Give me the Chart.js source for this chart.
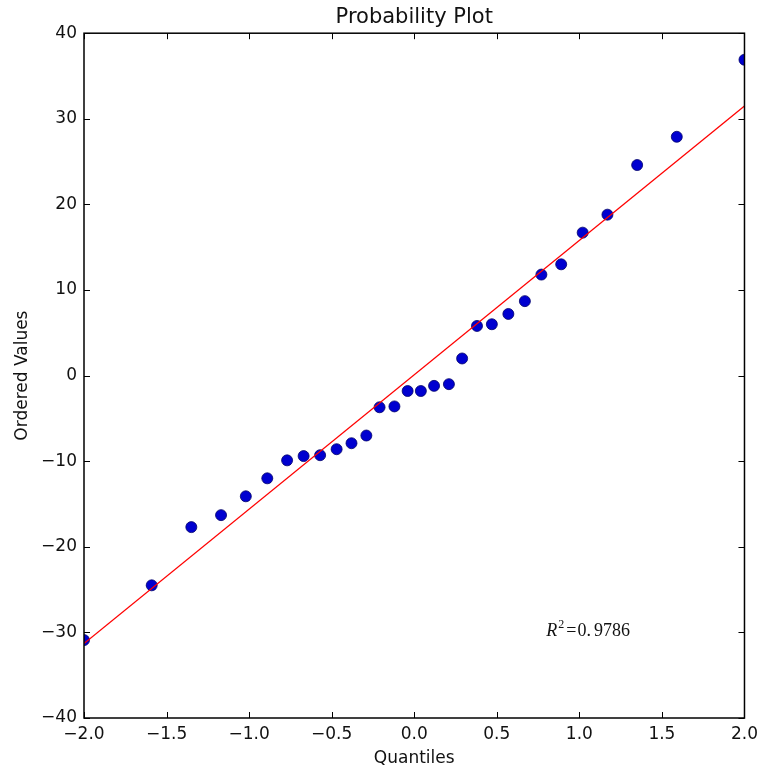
<!DOCTYPE html>
<html>
<head>
<meta charset="utf-8">
<script src="https://cdn.jsdelivr.net/npm/chart.js@4.4.1/dist/chart.umd.min.js"></script>
<style>
  html, body { margin: 0; padding: 0; background: #fff; }
  canvas { display: block; }
</style>
</head>
<body>
<canvas id="c" width="764" height="769"></canvas>
<script>
// Theoretical normal quantiles (x) and sorted sample values (y)
const quantiles = [
  -2.00, -1.59, -1.35, -1.17, -1.02, -0.89, -0.77, -0.67, -0.57, -0.47,
  -0.38, -0.29, -0.21, -0.12, -0.04, 0.04, 0.12, 0.21, 0.29, 0.38,
  0.47, 0.57, 0.67, 0.77, 0.89, 1.02, 1.17, 1.35, 1.59, 2.00
];
const orderedValues = [
  -30.9, -24.5, -17.7, -16.3, -14.1, -12.0, -9.9, -9.4, -9.3, -8.6,
  -7.9, -7.0, -3.7, -3.6, -1.8, -1.8, -1.2, -1.0, 2.0, 5.8,
  6.0, 7.2, 8.7, 11.8, 13.0, 16.7, 18.8, 24.6, 27.9, 36.9
];
// Least-squares fit line endpoints
const fitX = [-2.0, 2.0];
const fitY = [-31.3, 31.5];
// Axis ticks
const xTicks = [-2.0, -1.5, -1.0, -0.5, 0.0, 0.5, 1.0, 1.5, 2.0];
const yTicks = [-40, -30, -20, -10, 0, 10, 20, 30, 40];
const rSquared = '0.9786';

const FONT = 'DejaVu Sans';
const minus = s => s.replace('-', '\u2212');

// Frame, inward tick marks on all four sides, and the R² note
const framePlugin = {
  id: 'frame',
  afterDraw(chart) {
    const { ctx, chartArea: a, scales: { x, y } } = chart;
    const len = 6;
    ctx.save();
    ctx.strokeStyle = '#000';
    ctx.lineWidth = 1;
    ctx.beginPath();
    x.ticks.forEach(t => {
      const px = Math.round(x.getPixelForValue(t.value)) + 0.5;
      ctx.moveTo(px, a.bottom); ctx.lineTo(px, a.bottom - len);
      ctx.moveTo(px, a.top); ctx.lineTo(px, a.top + len);
    });
    y.ticks.forEach(t => {
      const py = Math.round(y.getPixelForValue(t.value)) + 0.5;
      ctx.moveTo(a.left, py); ctx.lineTo(a.left + len, py);
      ctx.moveTo(a.right, py); ctx.lineTo(a.right - len, py);
    });
    ctx.stroke();
    ctx.lineWidth = 1.5;
    ctx.strokeRect(a.left, a.top, a.right - a.left, a.bottom - a.top);

    // R^2 = value, math-style text
    let tx = x.getPixelForValue(0.8);
    const ty = y.getPixelForValue(-30.4);
    ctx.fillStyle = '#111';
    ctx.textBaseline = 'alphabetic';
    ctx.textAlign = 'left';
    ctx.font = 'italic 18px "Liberation Serif"';
    ctx.fillText('R', tx, ty);
    tx += ctx.measureText('R').width + 1;
    ctx.font = '12px "Liberation Serif"';
    ctx.fillText('2', tx, ty - 8);
    tx += ctx.measureText('2').width + 2;
    ctx.font = '18px "Liberation Serif"';
    ctx.fillText('=', tx, ty);
    tx += ctx.measureText('=').width + 1;
    const [ip, fp] = rSquared.split('.');
    ctx.fillText(ip + '.', tx, ty);
    tx += ctx.measureText(ip + '.').width + 3;
    ctx.fillText(fp, tx, ty);
    ctx.restore();
  }
};

new Chart(document.getElementById('c'), {
  type: 'scatter',
  data: {
    datasets: [
      {
        type: 'line',
        data: fitX.map((v, i) => ({ x: v, y: fitY[i] })),
        borderColor: '#ff0000',
        borderWidth: 1.3,
        pointRadius: 0,
        fill: false,
        clip: 0
      },
      {
        data: quantiles.map((v, i) => ({ x: v, y: orderedValues[i] })),
        backgroundColor: '#0000d0',
        borderColor: '#00006a',
        borderWidth: 0.8,
        pointRadius: 5.5,
        clip: 0
      }
    ]
  },
  options: {
    responsive: false,
    animation: false,
    layout: { autoPadding: false, padding: { left: 0, right: 16, top: 0, bottom: 0 } },
    plugins: {
      legend: { display: false },
      tooltip: { enabled: false },
      title: {
        display: true,
        text: 'Probability Plot',
        fullSize: false,
        color: '#111',
        font: { family: FONT, size: 21, weight: 'normal', lineHeight: 1.2 },
        padding: { top: 5, bottom: 3 }
      }
    },
    scales: {
      x: {
        type: 'linear',
        min: -2, max: 2,
        afterBuildTicks: s => { s.ticks = xTicks.map(v => ({ value: v })); },
        afterFit: s => { s.height = 51; },
        grid: { display: false, drawTicks: false },
        border: { display: false },
        ticks: {
          color: '#111',
          font: { family: FONT, size: 17 },
          padding: 6,
          maxRotation: 0,
          autoSkip: false,
          callback: v => minus(Number(v).toFixed(1))
        },
        title: {
          display: true,
          text: 'Quantiles',
          color: '#111',
          font: { family: FONT, size: 17, lineHeight: 1.2 },
          padding: { top: 0, bottom: 0 }
        }
      },
      y: {
        type: 'linear',
        min: -40, max: 40,
        afterBuildTicks: s => { s.ticks = yTicks.map(v => ({ value: v })); },
        afterFit: s => { s.width = 84; },
        grid: { display: false, drawTicks: false },
        border: { display: false },
        ticks: {
          color: '#111',
          font: { family: FONT, size: 17 },
          padding: 7,
          autoSkip: false,
          callback: v => minus(String(v))
        },
        title: {
          display: true,
          text: 'Ordered Values',
          color: '#111',
          font: { family: FONT, size: 17, lineHeight: 1.2 },
          padding: { top: 12, bottom: 12 }
        }
      }
    }
  },
  plugins: [framePlugin]
});
</script>
</body>
</html>
